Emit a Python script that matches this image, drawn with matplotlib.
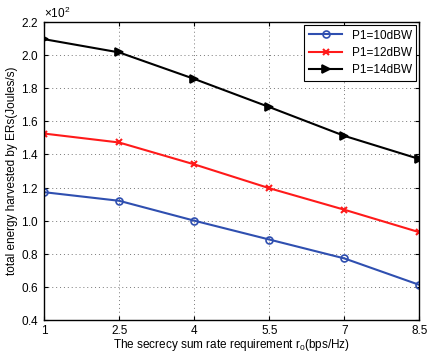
import matplotlib
matplotlib.use('Agg')
from matplotlib import pyplot as plt

plt.rcParams['font.family'] = ['Liberation Sans', 'DejaVu Sans']
plt.rcParams['mathtext.fontset'] = 'custom'
plt.rcParams['mathtext.rm'] = 'Liberation Sans'

rate = [1, 2.5, 4, 5.5, 7, 8.5]
p10 = [117.2, 112.0, 100.0, 88.6, 77.2, 61.2]
p12 = [152.6, 147.2, 134.0, 119.6, 106.6, 93.0]
p14 = [209.6, 201.6, 185.6, 168.6, 151.2, 137.2]
labels = ['P1=10dBW', 'P1=12dBW', 'P1=14dBW']

fig = plt.figure(figsize=(4.28, 3.54), dpi=100)
ax = fig.add_axes([0.103, 0.096, 0.877, 0.842])

ax.plot(rate, p10, '-o', color='#2f4fb0', lw=1.5, ms=5, mfc='none', mew=1.2, label=labels[0])
ax.plot(rate, p12, '-x', color='#ff1a1a', lw=1.5, ms=5, mew=1.5, label=labels[1])
ax.plot(rate, p14, '->', color='black', lw=1.5, ms=6, mew=1.2, label=labels[2])

ax.set_xlim(1, 8.5)
ax.set_ylim(40, 220)
ax.set_xticks(rate)
ax.set_xticklabels(['1', '2.5', '4', '5.5', '7', '8.5'])
ax.set_yticks([40, 60, 80, 100, 120, 140, 160, 180, 200, 220])
ax.ticklabel_format(axis='y', style='sci', scilimits=(0, 0), useMathText=True)
ax.yaxis.get_offset_text().set_fontsize(8.5)
ax.grid(True, linestyle=(0, (1, 3)), color='#777777', lw=0.7)
ax.tick_params(direction='in', top=True, right=True, labelsize=8.5, length=3, width=0.8)
for s in ax.spines.values():
    s.set_linewidth(1.0)

ax.set_xlabel('The secrecy sum rate requirement r$_0$(bps/Hz)', fontsize=8.5, labelpad=0)
ax.set_ylabel('total energy harvested by ERs(Joules/s)', fontsize=8.5, labelpad=2)

leg = ax.legend(loc='upper right', fontsize=8.5, fancybox=False, edgecolor='black',
                framealpha=1, handlelength=2.8, borderaxespad=0.25,
                labelspacing=0.45, borderpad=0.4)
leg.get_frame().set_linewidth(0.8)

fig.savefig('out.png', dpi=100)
